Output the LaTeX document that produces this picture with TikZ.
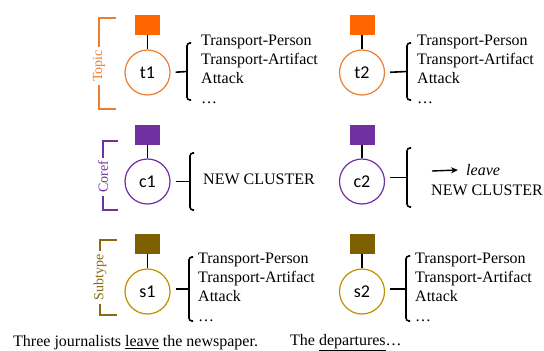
\documentclass[tikz,border=0pt]{standalone}
\usepackage{fontspec}
\setmainfont{Liberation Serif}
\newfontfamily\circfont{Carlito}
\usetikzlibrary{arrows.meta}
\definecolor{topicsq}{HTML}{FF6600}
\definecolor{topicln}{HTML}{ED7D31}
\definecolor{corefc}{HTML}{7030A0}
\definecolor{subsq}{HTML}{7F6000}
\definecolor{subln}{HTML}{8A6A10}
\definecolor{subcirc}{HTML}{BF9000}
\tikzset{
  sq/.style={draw=none, minimum width=25pt, minimum height=20pt, inner sep=0pt},
  circ/.style={circle, draw, line width=1.2pt, minimum size=45pt, inner sep=0pt,
    font=\circfont\fontsize{18}{18}\selectfont},
  stem/.style={line width=1.4pt},
  brk/.style={line width=1.6pt, rounded corners=3pt},
  conn/.style={line width=1.6pt, shorten <=5pt},
  lst/.style={align=left, anchor=north west, inner sep=0pt,
    font=\fontsize{16}{19.3}\selectfont},
  txt/.style={inner sep=0pt, font=\fontsize{16}{19}\selectfont},
  lbl/.style={rotate=90, inner sep=3pt, font=\fontsize{14}{14}\selectfont},
  lblline/.style={line width=1.2pt},
}
\begin{document}
\begin{tikzpicture}[x=1pt,y=-1pt]
\useasboundingbox (0,0) rectangle (544,351);

% ---------- Topic row ----------
\node[sq, fill=topicsq] (sqt1) at (147.5,25) {};
\node[circ, draw=topicln] (t1) at (147.5,72.5) {t1};
\draw[stem] (sqt1.south) -- (t1.north);
\coordinate (bt1) at (187,71.5);
\draw[conn] (t1.east) -- (bt1);
\draw[brk] (191,43) -- (187,43) -- (187,100) -- (191,100);
\node[lst] (lt1) at (201,34.5) {Transport-Person\\Transport-Artifact\\Attack\\…};

\node[sq, fill=topicsq] (sqt2) at (362,25) {};
\node[circ, draw=topicln] (t2) at (362,72.5) {t2};
\draw[stem] (sqt2.south) -- (t2.north);
\coordinate (bt2) at (407,71.5);
\draw[conn] (t2.east) -- (bt2);
\draw[brk] (411,43) -- (407,43) -- (407,100) -- (411,100);
\node[lst] (lt2) at (417,34.5) {Transport-Person\\Transport-Artifact\\Attack\\…};

\node[lbl, text=topicln] (topic) at (99,66) {Topic};
\draw[lblline, draw=topicln] (116,18) -- (99,18) -- (topic.east);
\draw[lblline, draw=topicln] (topic.west) -- (99,109) -- (116,109);

% ---------- Coref row ----------
\node[sq, fill=corefc] (sqc1) at (147.5,134.5) {};
\node[circ, draw=corefc] (c1) at (147.5,181.5) {c1};
\draw[stem] (sqc1.south) -- (c1.north);
\coordinate (bc1) at (190,181.5);
\draw[conn] (c1.east) -- (bc1);
\draw[brk] (194,153) -- (190,153) -- (190,210) -- (194,210);
\node[txt, anchor=west] (nc1) at (203,179) {NEW CLUSTER};

\node[sq, fill=corefc] (sqc2) at (362,134.5) {};
\node[circ, draw=corefc] (c2) at (362,181.5) {c2};
\draw[stem] (sqc2.south) -- (c2.north);
\coordinate (bc2) at (407,177.5);
\draw[conn] (c2.east |- bc2) -- (bc2);
\draw[brk] (411,148) -- (407,148) -- (407,207) -- (411,207);
\coordinate (ar1) at (432,171);
\node[txt, anchor=west, font=\fontsize{16}{19}\selectfont\itshape] (lv) at (466,170) {leave};
\draw[line width=1.4pt, -{Stealth[length=7pt,width=6pt]}] (ar1) -- ([xshift=-8pt]lv.west);
\node[txt, anchor=west] (nc2) at (431,190) {NEW CLUSTER};

\node[lbl, text=corefc] (coref) at (103,177) {Coref};
\draw[lblline, draw=corefc] (118,141) -- (103,141) -- (coref.east);
\draw[lblline, draw=corefc] (coref.west) -- (103,210) -- (118,210);

% ---------- Subtype row ----------
\node[sq, fill=subsq] (sqs1) at (147.5,243.5) {};
\node[circ, draw=subcirc] (s1) at (147.5,291.5) {s1};
\draw[stem] (sqs1.south) -- (s1.north);
\coordinate (bs1) at (189,289);
\draw[conn] (s1.east |- bs1) -- (bs1);
\draw[brk] (193,257) -- (189,257) -- (189,321) -- (193,321);
\node[lst] (ls1) at (198,252.5) {Transport-Person\\Transport-Artifact\\Attack\\…};

\node[sq, fill=subsq] (sqs2) at (362,243.5) {};
\node[circ, draw=subcirc] (s2) at (362,291.5) {s2};
\draw[stem] (sqs2.south) -- (s2.north);
\coordinate (bs2) at (406,289);
\draw[conn] (s2.east |- bs2) -- (bs2);
\draw[brk] (410,256) -- (406,256) -- (406,321) -- (410,321);
\node[lst] (ls2) at (415,252.5) {Transport-Person\\Transport-Artifact\\Attack\\…};

\node[lbl, text=subln] (subtype) at (100,277.5) {Subtype};
\draw[lblline, draw=subln] (117,240) -- (100,240) -- (subtype.east);
\draw[lblline, draw=subln] (subtype.west) -- (100,315) -- (117,315);

% ---------- Sentences ----------
\node[txt, anchor=west] (sent1) at (13,343) {Three journalists \underline{leave} the newspaper.};
\node[txt, anchor=west] (sent2) at (290,343) {The \underline{departures}…};
\end{tikzpicture}
\end{document}
